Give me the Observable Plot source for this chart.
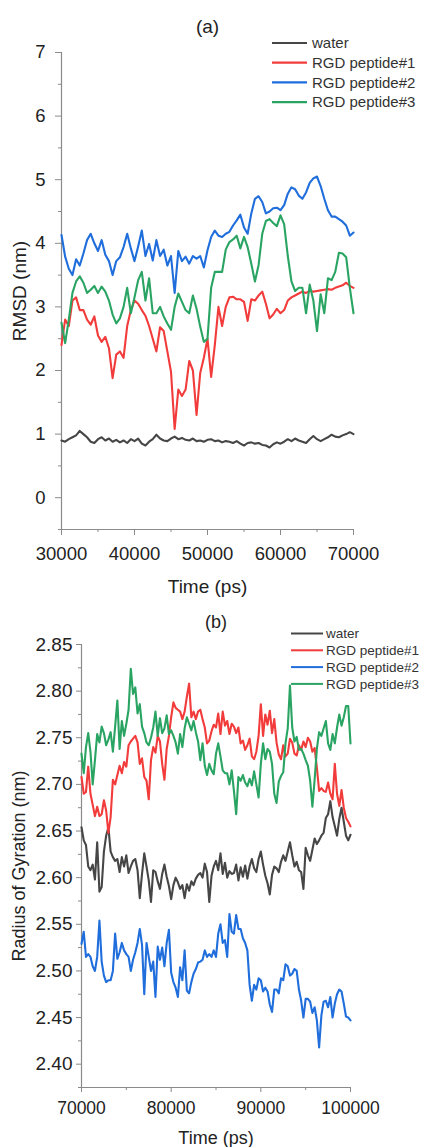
<!DOCTYPE html>
<html>
<head>
<meta charset="utf-8">
<script src="https://cdn.jsdelivr.net/npm/d3@7"></script>
<script src="https://cdn.jsdelivr.net/npm/@observablehq/plot@0.6"></script>
<style>
  html, body { margin: 0; padding: 0; background: #fff; }
  #chart svg { display: block; }
</style>
</head>
<body>
<div id="chart"></div>
<script>
const FONT = "'Liberation Sans', Arial, Helvetica, sans-serif";
const AXIS = "#8a8a8a";
const INK = "#222";

const seriesNames = ["water", "RGD peptide#1", "RGD peptide#2", "RGD peptide#3"];
const seriesColors = ["#464646", "#f23c3c", "#1f6edc", "#2aa463"];

// ---------- (a) RMSD, 30000–70000 ps, sampled every 500 ps ----------
const timeA = d3.range(30000, 70001, 500);
const rmsdWater = [
  0.90, 0.88, 0.92, 0.95, 0.98, 1.05, 1.00, 0.95, 0.88, 0.86,
  0.92, 0.95, 0.90, 0.93, 0.88, 0.91, 0.87, 0.90, 0.86, 0.92,
  0.89, 0.93, 0.85, 0.82, 0.88, 0.92, 0.99, 0.93, 0.90, 0.89,
  0.93, 0.96, 0.92, 0.94, 0.91, 0.90, 0.93, 0.89, 0.90, 0.88,
  0.91, 0.92, 0.89, 0.90, 0.87, 0.89, 0.88, 0.86, 0.89, 0.85,
  0.82, 0.86, 0.87, 0.85, 0.86, 0.83, 0.82, 0.79, 0.84, 0.87,
  0.85, 0.88, 0.92, 0.89, 0.93, 0.90, 0.88, 0.86, 0.92, 0.97,
  0.92, 0.89, 0.92, 0.95, 0.99, 0.96, 0.95, 0.98, 1.00, 1.03,
  1.00];
const rmsdP1 = [
  2.40, 2.80, 2.70, 3.10, 3.15, 2.95, 2.95, 2.80, 2.72, 2.85,
  2.55, 2.45, 2.53, 2.35, 1.88, 2.25, 2.30, 2.20, 2.70, 2.95,
  3.10, 3.05, 2.95, 2.86, 2.70, 2.50, 2.30, 2.68, 2.62, 2.30,
  1.98, 1.08, 1.70, 1.60, 1.70, 2.15, 2.00, 1.30, 1.96, 2.20,
  2.50, 1.90, 2.40, 3.00, 2.70, 3.00, 3.15, 3.16, 3.12, 3.12,
  3.08, 2.78, 3.12, 3.10, 3.18, 3.24, 3.05, 2.82, 2.88, 2.97,
  2.90, 2.95, 3.10, 3.15, 3.18, 3.21, 3.24, 3.22, 3.25, 3.24,
  3.25, 3.26, 3.27, 3.28, 3.27, 3.30, 3.32, 3.34, 3.38, 3.33,
  3.30];
const rmsdP2 = [
  4.13, 3.79, 3.60, 3.50, 3.75, 3.65, 3.84, 4.05, 4.15, 4.00,
  3.88, 4.05, 3.82, 3.72, 3.50, 3.72, 3.78, 3.94, 4.15, 3.92,
  3.72, 3.95, 4.20, 3.80, 3.99, 3.73, 4.05, 3.80, 3.90, 3.65,
  3.80, 3.22, 3.88, 3.72, 3.79, 3.68, 3.80, 3.76, 3.80, 3.62,
  3.89, 4.10, 4.20, 4.12, 4.10, 4.15, 4.18, 4.28, 4.36, 4.45,
  4.25, 4.15, 4.47, 4.70, 4.74, 4.65, 4.47, 4.50, 4.55, 4.56,
  4.52, 4.60, 4.78, 4.88, 4.85, 4.75, 4.70, 4.80, 4.95, 5.02,
  5.05, 4.90, 4.70, 4.52, 4.42, 4.42, 4.38, 4.34, 4.28, 4.12,
  4.17];
const rmsdP3 = [
  2.75, 2.43, 2.80, 3.22, 3.40, 3.48, 3.38, 3.22, 3.27, 3.33,
  3.22, 3.32, 3.24, 3.10, 2.88, 2.74, 2.82, 3.00, 3.30, 2.90,
  3.15, 3.42, 3.55, 3.10, 3.45, 2.90, 2.90, 3.00, 2.85, 2.74,
  2.64, 3.00, 3.21, 3.08, 2.95, 2.90, 3.18, 2.97, 2.69, 2.45,
  2.50, 3.30, 3.55, 3.55, 3.55, 3.90, 4.02, 4.06, 4.12, 3.92,
  4.10, 3.94, 3.68, 3.40, 3.66, 4.15, 4.35, 4.38, 4.32, 4.27,
  4.44, 4.30, 3.80, 3.40, 3.25, 3.30, 3.30, 2.90, 3.35, 3.10,
  2.62, 3.20, 2.90, 3.45, 3.42, 3.55, 3.85, 3.84, 3.78, 3.30,
  2.90];
const ticksAx = [30000, 40000, 50000, 60000, 70000];
const minorAx = [35000, 45000, 55000, 65000];
const ticksAy = [0, 1, 2, 3, 4, 5, 6, 7];
const minorAy = [-0.5, 0.5, 1.5, 2.5, 3.5, 4.5, 5.5, 6.5];

// ---------- (b) Radius of gyration, 70000–100000 ps, sampled every 250 ps ----------
const timeB = d3.range(70000, 100001, 250);
const rgWater = [
  2.654, 2.640, 2.635, 2.612, 2.608, 2.614, 2.598, 2.638, 2.585, 2.590,
  2.628, 2.645, 2.654, 2.628, 2.622, 2.618, 2.620, 2.606, 2.622, 2.612,
  2.624, 2.605, 2.612, 2.618, 2.620, 2.608, 2.578, 2.604, 2.626, 2.612,
  2.597, 2.574, 2.608, 2.606, 2.596, 2.588, 2.604, 2.614, 2.601, 2.591,
  2.577, 2.592, 2.600, 2.595, 2.588, 2.592, 2.578, 2.593, 2.586, 2.596,
  2.592, 2.599, 2.603, 2.605, 2.600, 2.615, 2.606, 2.574, 2.602, 2.612,
  2.618, 2.608, 2.626, 2.604, 2.616, 2.600, 2.607, 2.604, 2.605, 2.614,
  2.597, 2.611, 2.601, 2.613, 2.599, 2.612, 2.620, 2.610, 2.606, 2.620,
  2.628, 2.614, 2.602, 2.594, 2.582, 2.603, 2.612, 2.610, 2.606, 2.617,
  2.624, 2.618, 2.628, 2.638, 2.624, 2.612, 2.617, 2.608, 2.606, 2.588,
  2.632, 2.624, 2.618, 2.630, 2.642, 2.636, 2.640, 2.645, 2.648, 2.664,
  2.668, 2.682, 2.665, 2.655, 2.645, 2.663, 2.675, 2.660, 2.645, 2.640,
  2.646];
const rgP1 = [
  2.708, 2.690, 2.692, 2.719, 2.690, 2.678, 2.666, 2.676, 2.666, 2.668,
  2.683, 2.672, 2.648, 2.665, 2.705, 2.700, 2.710, 2.720, 2.712, 2.724,
  2.719, 2.742, 2.746, 2.749, 2.752, 2.745, 2.722, 2.728, 2.708, 2.704,
  2.684, 2.726, 2.740, 2.734, 2.752, 2.746, 2.722, 2.705, 2.738, 2.752,
  2.772, 2.788, 2.782, 2.780, 2.778, 2.770, 2.778, 2.794, 2.808, 2.772,
  2.778, 2.770, 2.778, 2.780, 2.770, 2.761, 2.744, 2.747, 2.757, 2.764,
  2.761, 2.776, 2.754, 2.778, 2.763, 2.768, 2.754, 2.765, 2.762, 2.755,
  2.761, 2.744, 2.747, 2.737, 2.742, 2.749, 2.730, 2.727, 2.735, 2.752,
  2.786, 2.752, 2.775, 2.764, 2.779, 2.755, 2.770, 2.745, 2.732, 2.727,
  2.742, 2.730, 2.733, 2.749, 2.745, 2.733, 2.731, 2.742, 2.737, 2.746,
  2.740, 2.750, 2.746, 2.735, 2.739, 2.718, 2.693, 2.696, 2.693, 2.692,
  2.702, 2.690, 2.684, 2.722, 2.690, 2.677, 2.694, 2.675, 2.664, 2.660,
  2.655];
const rgP2 = [
  2.529, 2.542, 2.515, 2.518, 2.515, 2.505, 2.500, 2.515, 2.554, 2.510,
  2.495, 2.488, 2.490, 2.490, 2.500, 2.540, 2.513, 2.520, 2.530, 2.522,
  2.518, 2.515, 2.500, 2.512, 2.520, 2.530, 2.545, 2.528, 2.475, 2.530,
  2.515, 2.500, 2.510, 2.472, 2.526, 2.512, 2.525, 2.505, 2.530, 2.544,
  2.498, 2.488, 2.482, 2.472, 2.504, 2.490, 2.522, 2.479, 2.476, 2.488,
  2.497, 2.502, 2.509, 2.510, 2.512, 2.522, 2.515, 2.518, 2.515, 2.522,
  2.515, 2.540, 2.550, 2.530, 2.533, 2.515, 2.561, 2.542, 2.540, 2.560,
  2.545, 2.545, 2.535, 2.530, 2.522, 2.485, 2.468, 2.485, 2.480, 2.492,
  2.490, 2.478, 2.482, 2.478, 2.464, 2.456, 2.480, 2.480, 2.476, 2.492,
  2.490, 2.507, 2.505, 2.495, 2.497, 2.502, 2.500, 2.480, 2.468, 2.450,
  2.470, 2.470, 2.467, 2.455, 2.461, 2.447, 2.418, 2.452, 2.467, 2.468,
  2.461, 2.472, 2.450, 2.465, 2.475, 2.480, 2.478, 2.465, 2.451, 2.450,
  2.447];
const rgP3 = [
  2.733, 2.712, 2.740, 2.755, 2.735, 2.700, 2.726, 2.754, 2.745, 2.762,
  2.755, 2.742, 2.748, 2.756, 2.735, 2.762, 2.790, 2.738, 2.768, 2.752,
  2.765, 2.780, 2.824, 2.797, 2.804, 2.776, 2.786, 2.762, 2.755, 2.745,
  2.742, 2.750, 2.761, 2.778, 2.752, 2.771, 2.755, 2.760, 2.774, 2.754,
  2.758, 2.752, 2.745, 2.733, 2.754, 2.740, 2.760, 2.772, 2.765, 2.758,
  2.768, 2.756, 2.746, 2.726, 2.744, 2.720, 2.710, 2.722, 2.715, 2.711,
  2.733, 2.744, 2.730, 2.715, 2.712, 2.712, 2.700, 2.715, 2.693, 2.668,
  2.708, 2.704, 2.710, 2.702, 2.698, 2.706, 2.699, 2.714, 2.700, 2.686,
  2.722, 2.744, 2.727, 2.738, 2.735, 2.722, 2.690, 2.680, 2.703, 2.709,
  2.713, 2.744, 2.760, 2.806, 2.761, 2.746, 2.751, 2.737, 2.738, 2.733,
  2.726, 2.720, 2.704, 2.676, 2.705, 2.738, 2.756, 2.752, 2.760, 2.768,
  2.744, 2.737, 2.754, 2.744, 2.761, 2.775, 2.763, 2.772, 2.784, 2.784,
  2.744];
const ticksBx = [70000, 80000, 90000, 100000];
const minorBx = [75000, 85000, 95000];
const ticksBy = [2.40, 2.45, 2.50, 2.55, 2.60, 2.65, 2.70, 2.75, 2.80, 2.85];
const minorBy = [2.375, 2.425, 2.475, 2.525, 2.575, 2.625, 2.675, 2.725, 2.775, 2.825];

// ---------- helpers ----------
function toRows(times, arrays) {
  return seriesNames.flatMap((name, k) =>
    arrays[k].map((v, i) => ({ t: times[i], v, s: name })));
}

function legendMark({ x, y, step, len, gap, fontSize, width }) {
  return () => {
    const g = d3.create("svg:g").attr("font-family", FONT).attr("text-anchor", "start");
    seriesNames.forEach((name, i) => {
      const yy = y + i * step;
      g.append("line")
        .attr("x1", x).attr("x2", x + len)
        .attr("y1", yy).attr("y2", yy)
        .attr("stroke", seriesColors[i]).attr("stroke-width", width);
      g.append("text")
        .attr("x", x + len + gap).attr("y", yy).attr("dy", "0.35em")
        .attr("text-anchor", "start")
        .attr("font-size", fontSize).attr("fill", "#333")
        .text(name);
    });
    return g.node();
  };
}

const chart = document.getElementById("chart");

// ---------- panel (a) ----------
const plotA = Plot.plot({
  width: 422,
  height: 600,
  marginTop: 52,
  marginBottom: 71,
  marginLeft: 61,
  marginRight: 69,
  style: { fontFamily: FONT, fontSize: "18px", color: INK, background: "#fff" },
  x: { domain: [30000, 70000] },
  y: { domain: [-0.5, 7] },
  color: { domain: seriesNames, range: seriesColors },
  marks: [
    Plot.ruleX([30000], { stroke: AXIS, strokeWidth: 1.2 }),
    Plot.ruleY([-0.5], { stroke: AXIS, strokeWidth: 1.2 }),
    Plot.axisX({ ticks: ticksAx, tickSize: 6, tickPadding: 11, tickFormat: d => String(d),
      stroke: AXIS, fill: INK, fontSize: 18.5, label: null }),
    Plot.axisX({ ticks: minorAx, tickSize: 3, tickFormat: () => "", stroke: AXIS, label: null }),
    Plot.axisY({ ticks: ticksAy, tickSize: 6, tickPadding: 10, tickFormat: d => String(d),
      stroke: AXIS, fill: INK, fontSize: 18.5, label: null }),
    Plot.axisY({ ticks: minorAy, tickSize: 3, tickFormat: () => "", stroke: AXIS, label: null }),
    Plot.line(toRows(timeA, [rmsdWater, rmsdP1, rmsdP2, rmsdP3]),
      { x: "t", y: "v", z: "s", stroke: "s", strokeWidth: 2.1, strokeLinejoin: "round" }),
    Plot.text(["Time (ps)"], { text: d => d, frameAnchor: "bottom", lineAnchor: "middle", dy: 57, fontSize: 19, fill: INK }),
    Plot.text(["RMSD (nm)"], { text: d => d, frameAnchor: "left", textAnchor: "middle", lineAnchor: "middle", rotate: -90, dx: -42, fontSize: 19, fill: INK }),
    Plot.text(["(a)"], { text: d => d, frameAnchor: "top", lineAnchor: "middle", dy: -26, fontSize: 19, fill: INK }),
    legendMark({ x: 272, y: 43, step: 19.7, len: 35, gap: 5, fontSize: 15, width: 2.2 })
  ]
});

// ---------- panel (b) ----------
const plotB = Plot.plot({
  width: 422,
  height: 547,
  marginTop: 44,
  marginBottom: 60,
  marginLeft: 81,
  marginRight: 72,
  style: { fontFamily: FONT, fontSize: "18px", color: INK, background: "#fff" },
  x: { domain: [70000, 100000] },
  y: { domain: [2.375, 2.85] },
  color: { domain: seriesNames, range: seriesColors },
  marks: [
    Plot.ruleX([70000], { stroke: AXIS, strokeWidth: 1.2 }),
    Plot.ruleY([2.375], { stroke: AXIS, strokeWidth: 1.2 }),
    Plot.axisX({ ticks: ticksBx, tickSize: 5, tickPadding: 9, tickFormat: d => String(d),
      stroke: AXIS, fill: INK, fontSize: 17.5, label: null }),
    Plot.axisX({ ticks: minorBx, tickSize: 3, tickFormat: () => "", stroke: AXIS, label: null }),
    Plot.axisY({ ticks: ticksBy, tickSize: 5, tickPadding: 4, tickFormat: d3.format(".2f"),
      stroke: AXIS, fill: INK, fontSize: 19, label: null }),
    Plot.axisY({ ticks: minorBy, tickSize: 3, tickFormat: () => "", stroke: AXIS, label: null }),
    Plot.line(toRows(timeB, [rgWater, rgP1, rgP2, rgP3]),
      { x: "t", y: "v", z: "s", stroke: "s", strokeWidth: 2.1, strokeLinejoin: "round" }),
    Plot.text(["Time (ps)"], { text: d => d, frameAnchor: "bottom", lineAnchor: "middle", dy: 51, fontSize: 18, fill: INK }),
    Plot.text(["Radius of Gyration (nm)"], { text: d => d, frameAnchor: "left", textAnchor: "middle", lineAnchor: "middle", rotate: -90, dx: -62, fontSize: 18, fill: INK }),
    Plot.text(["(b)"], { text: d => d, frameAnchor: "top", lineAnchor: "middle", dy: -22, fontSize: 18, fill: INK }),
    legendMark({ x: 291, y: 33.5, step: 16.8, len: 32, gap: 3, fontSize: 13.5, width: 2 })
  ]
});

chart.append(plotA, plotB);
</script>
</body>
</html>
